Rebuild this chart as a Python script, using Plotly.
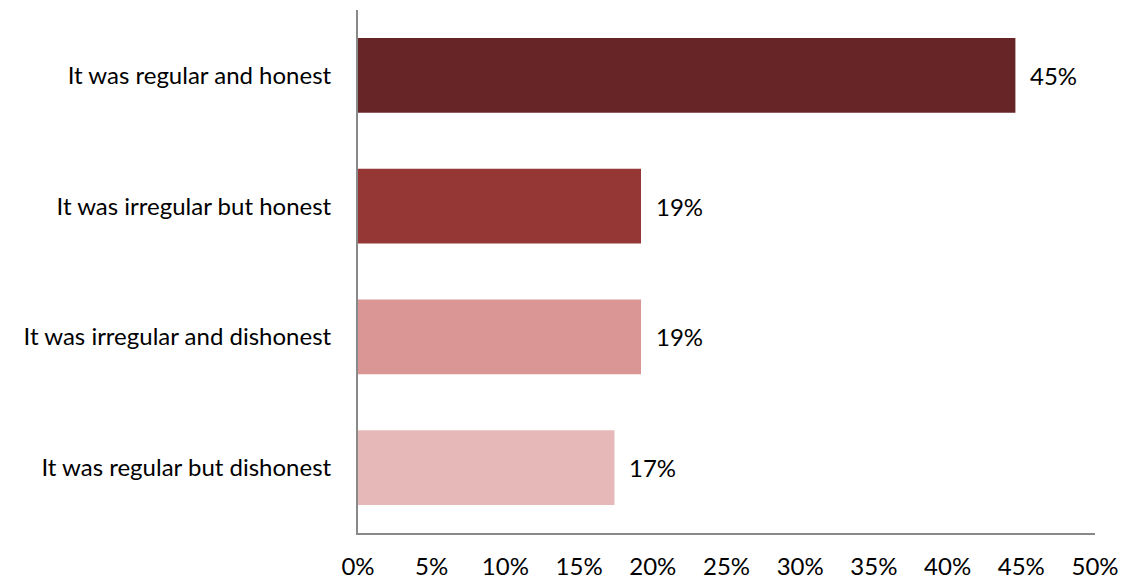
import plotly.graph_objects as go

# Survey responses, listed top to bottom
categories = [
    "It was regular and honest",
    "It was irregular but honest",
    "It was irregular and dishonest",
    "It was regular but dishonest",
]
shares = [44.6, 19.2, 19.2, 17.4]
colors = ["#672527", "#953735", "#D99694", "#E6B9B8"]
tick_values = [0, 5, 10, 15, 20, 25, 30, 35, 40, 45, 50]
tick_labels = [f"{v}%" for v in tick_values]

FONT = "Lato"
SIZE = 24
fig = go.Figure()
fig.add_trace(go.Bar(
    y=categories,
    x=shares,
    orientation="h",
    marker=dict(color=colors, line=dict(width=0)),
    hoverinfo="skip",
))

# Value labels just past the bar ends
for cat, val in zip(categories, shares):
    fig.add_annotation(
        x=val, y=cat, text=f"{val:.0f}%",
        xanchor="left", yanchor="middle", xshift=13,
        showarrow=False, font=dict(family=FONT, size=SIZE, color="#000000"),
    )

fig.update_layout(
    width=1123, height=580,
    margin=dict(l=358, r=28, t=10, b=47, autoexpand=False),
    paper_bgcolor="white", plot_bgcolor="white",
    showlegend=False,
    bargap=0.43,
    font=dict(family=FONT, size=SIZE, color="#000000"),
    xaxis=dict(
        range=[0, 50], tickvals=tick_values, ticktext=tick_labels,
        showgrid=False, zeroline=False, showline=True,
        linecolor="#898989", linewidth=2, ticks="",
        ticklabelstandoff=11, automargin=False,
        tickfont=dict(family=FONT, size=SIZE, color="#000000"),
    ),
    yaxis=dict(
        categoryorder="array", categoryarray=categories[::-1],
        showgrid=False, zeroline=False, showline=True,
        linecolor="#898989", linewidth=2, ticks="",
        ticklabelstandoff=20, automargin=False,
        tickfont=dict(family=FONT, size=SIZE, color="#000000"),
    ),
)

fig.write_html("out.html")
